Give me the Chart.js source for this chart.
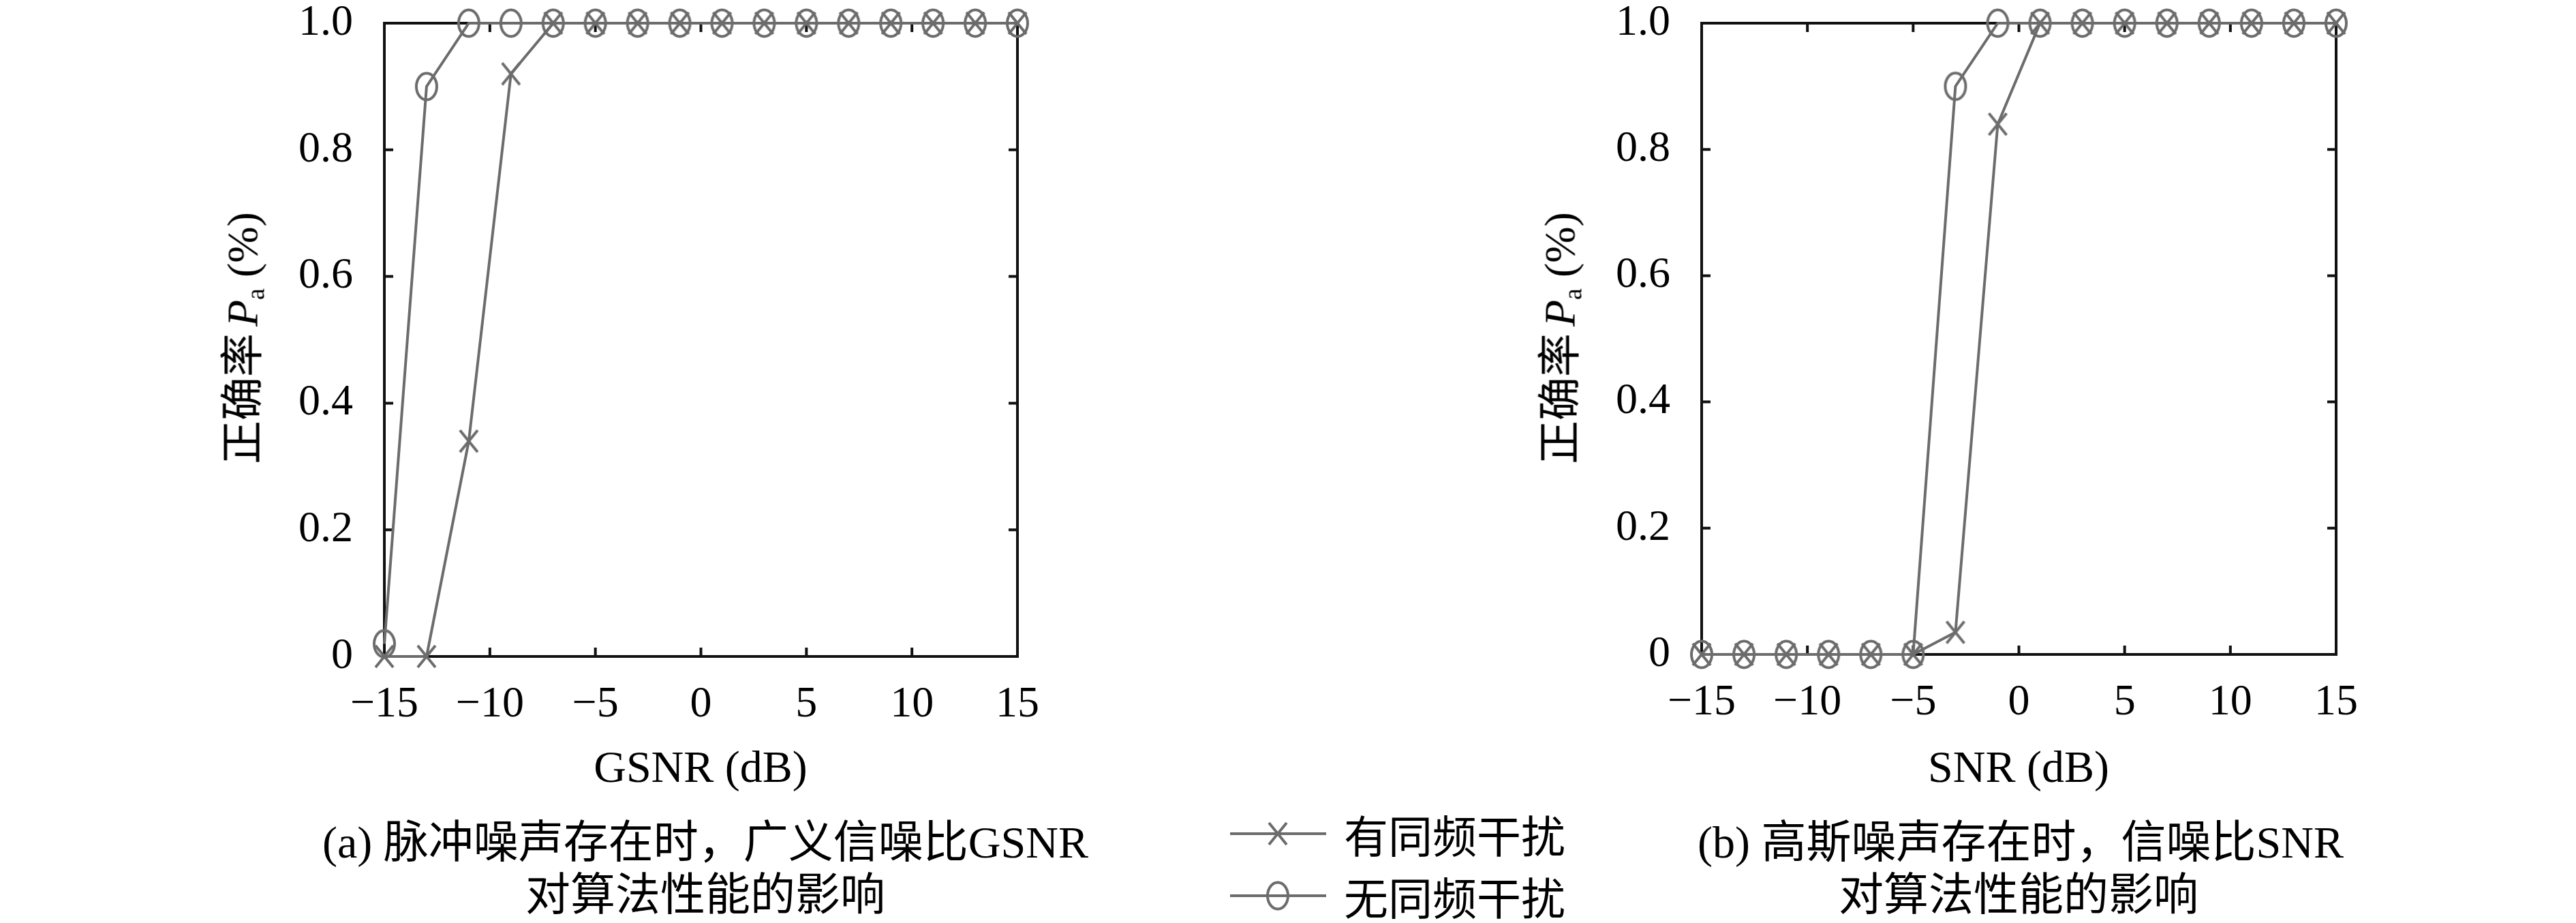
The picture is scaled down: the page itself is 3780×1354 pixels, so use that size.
<!DOCTYPE html>
<html>
<head>
<meta charset="utf-8">
<script src="https://cdn.jsdelivr.net/npm/chart.js@4/dist/chart.umd.min.js"></script>
<style>
html,body{margin:0;padding:0;background:#fff;}
body{width:3780px;height:1354px;position:relative;overflow:hidden;font-family:"Liberation Serif","Noto Sans CJK SC",serif;color:#000;}
.abs{position:absolute;white-space:nowrap;transform:translate(-50%,-50%);line-height:1;}
.ytitle{transform:translate(-50%,-50%) rotate(-90deg);font-size:64px;}
.ytitle i{margin-left:10px;}
.xtitle{font-size:66px;}
.cap{font-size:66px;}
.leg{position:absolute;left:1803px;width:560px;height:60px;display:flex;align-items:center;transform:translateY(-50%);}
.leg span{font-family:"Noto Sans CJK SC";font-size:65px;line-height:1;margin-left:24px;}
sub{font-size:38px;vertical-align:-10px;font-style:normal;}
canvas{position:absolute;top:0;}
</style>
</head>
<body>
<canvas id="c1" width="1700" height="1100" style="left:0px"></canvas>
<canvas id="c2" width="1880" height="1100" style="left:1900px"></canvas>

<div class="abs ytitle" style="left:359px;top:496px">正确率<i>P</i><sub>a</sub> (%)</div>
<div class="abs ytitle" style="left:2292px;top:496px">正确率<i>P</i><sub>a</sub> (%)</div>
<div class="abs xtitle" style="left:1028px;top:1125px">GSNR (dB)</div>
<div class="abs xtitle" style="left:2962px;top:1125px">SNR (dB)</div>
<div class="abs cap" style="left:1035px;top:1236px">(a) 脉冲噪声存在时，广义信噪比GSNR</div>
<div class="abs cap" style="left:1035px;top:1313px">对算法性能的影响</div>
<div class="abs cap" style="left:2965px;top:1236px">(b) 高斯噪声存在时，信噪比SNR</div>
<div class="abs cap" style="left:2962px;top:1313px">对算法性能的影响</div>

<div class="leg" style="top:1223px">
  <svg width="145" height="50"><line x1="2" y1="25" x2="143" y2="25" stroke="#6c6c6c" stroke-width="4"/><line x1="59" y1="9" x2="85" y2="41" stroke="#6c6c6c" stroke-width="4"/><line x1="85" y1="9" x2="59" y2="41" stroke="#6c6c6c" stroke-width="4"/></svg>
  <span>有同频干扰</span>
</div>
<div class="leg" style="top:1314px">
  <svg width="145" height="50"><line x1="2" y1="25" x2="143" y2="25" stroke="#6c6c6c" stroke-width="4"/><ellipse cx="72" cy="25" rx="15" ry="19.5" fill="none" stroke="#6c6c6c" stroke-width="4"/></svg>
  <span>无同频干扰</span>
</div>

<script>
// ---- data ----
const snrValues = [-15, -13, -11, -9, -7, -5, -3, -1, 1, 3, 5, 7, 9, 11, 13, 15];
const seriesNames = ['有同频干扰', '无同频干扰'];
// (a) impulsive noise, GSNR
const aWithInterference    = [0, 0, 0.34, 0.92, 1, 1, 1, 1, 1, 1, 1, 1, 1, 1, 1, 1];
const aWithoutInterference = [0.02, 0.90, 1, 1, 1, 1, 1, 1, 1, 1, 1, 1, 1, 1, 1, 1];
// (b) Gaussian noise, SNR
const bWithInterference    = [0, 0, 0, 0, 0, 0, 0.035, 0.84, 1, 1, 1, 1, 1, 1, 1, 1];
const bWithoutInterference = [0, 0, 0, 0, 0, 0, 0.90, 1, 1, 1, 1, 1, 1, 1, 1, 1];
const xTickValues = [-15, -10, -5, 0, 5, 10, 15];
const yTickValues = [0, 0.2, 0.4, 0.6, 0.8, 1.0];

// ---- styles ----
const GRAY = '#6c6c6c';
function ellipseMarker() {
  const c = document.createElement('canvas');
  c.width = 38; c.height = 48;
  const g = c.getContext('2d');
  g.strokeStyle = GRAY; g.lineWidth = 4;
  g.beginPath(); g.ellipse(19, 24, 15, 19.5, 0, 0, Math.PI * 2); g.stroke();
  return c;
}
function crossMarker() {
  const c = document.createElement('canvas');
  c.width = 32; c.height = 38;
  const g = c.getContext('2d');
  g.strokeStyle = GRAY; g.lineWidth = 4;
  g.beginPath();
  g.moveTo(3, 3); g.lineTo(29, 35);
  g.moveTo(29, 3); g.lineTo(3, 35);
  g.stroke();
  return c;
}
const circleImg = ellipseMarker();
const crossImg = crossMarker();

const framePlugin = {
  id: 'frame',
  beforeDatasetsDraw(chart) {
    const {ctx, chartArea: a, scales: {x, y}} = chart;
    ctx.save();
    ctx.strokeStyle = '#111';
    ctx.lineWidth = 4;
    ctx.beginPath();
    x.ticks.forEach(t => {
      const px = x.getPixelForValue(t.value);
      ctx.moveTo(px, a.bottom); ctx.lineTo(px, a.bottom - 13);
      ctx.moveTo(px, a.top); ctx.lineTo(px, a.top + 13);
    });
    y.ticks.forEach(t => {
      const py = y.getPixelForValue(t.value);
      ctx.moveTo(a.left, py); ctx.lineTo(a.left + 13, py);
      ctx.moveTo(a.right, py); ctx.lineTo(a.right - 13, py);
    });
    ctx.stroke();
    ctx.strokeRect(a.left, a.top, a.right - a.left, a.bottom - a.top);
    ctx.restore();
  }
};

function zeroPad(s) { s.paddingTop = 0; s.paddingBottom = 0; s.paddingLeft = 0; s.paddingRight = 0; }

function makeChart(id, withArr, withoutArr, leftW, rightPad, bottomH) {
  const mk = (arr) => snrValues.map((v, i) => ({x: v, y: arr[i]}));
  return new Chart(document.getElementById(id), {
    type: 'line',
    data: {
      datasets: [
        {label: seriesNames[0], data: mk(withArr), borderColor: GRAY, borderWidth: 4,
         pointStyle: crossImg, pointRadius: 12, clip: false, tension: 0, fill: false},
        {label: seriesNames[1], data: mk(withoutArr), borderColor: GRAY, borderWidth: 4,
         pointStyle: circleImg, pointRadius: 12, clip: false, tension: 0, fill: false}
      ]
    },
    options: {
      responsive: false,
      animation: false,
      events: [],
      layout: {padding: {left: 0, top: 34, right: rightPad, bottom: 0}},
      plugins: {legend: {display: false}, tooltip: {enabled: false}},
      scales: {
        x: {
          type: 'linear', min: -15, max: 15,
          grid: {display: false, drawTicks: false},
          border: {display: false},
          afterBuildTicks: s => { s.ticks = xTickValues.map(v => ({value: v})); },
          afterFit: s => { s.height = bottomH; zeroPad(s); },
          ticks: {
            padding: 33, color: '#000', maxRotation: 0,
            font: {family: 'Liberation Serif', size: 64},
            callback: v => v < 0 ? '\u2212' + Math.abs(v) : String(v)
          }
        },
        y: {
          type: 'linear', min: 0, max: 1,
          grid: {display: false, drawTicks: false},
          border: {display: false},
          afterBuildTicks: s => { s.ticks = yTickValues.map(v => ({value: v})); },
          afterFit: s => { s.width = leftW; zeroPad(s); },
          ticks: {
            padding: 46, color: '#000',
            font: {family: 'Liberation Serif', size: 64},
            callback: v => v === 0 ? '0' : Number(v).toFixed(1)
          }
        }
      }
    },
    plugins: [framePlugin]
  });
}

makeChart('c1', aWithInterference, aWithoutInterference, 564, 1700 - 1493, 1100 - 963);
makeChart('c2', bWithInterference, bWithoutInterference, 597, 1880 - 1528, 1100 - 960);
</script>
</body>
</html>
